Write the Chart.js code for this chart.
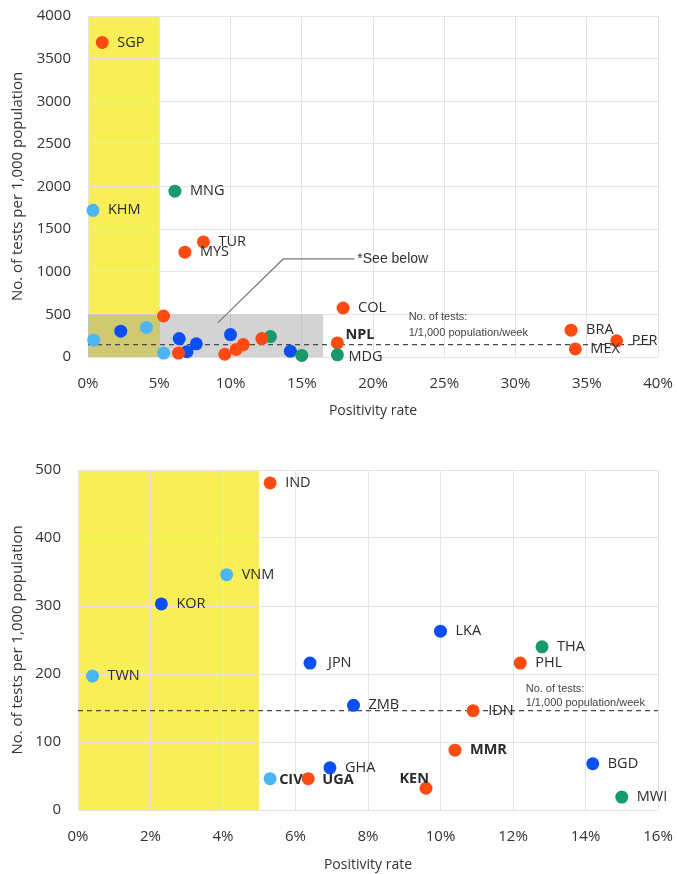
<!DOCTYPE html>
<html>
<head>
<meta charset="utf-8">
<script src="https://cdn.jsdelivr.net/npm/chart.js@4.4.1/dist/chart.umd.min.js"></script>
<style>
  html, body { margin: 0; padding: 0; background: #fff; }
  #wrap { position: relative; width: 677px; height: 874px; }
  .panel { position: absolute; left: 0; width: 677px; }
  #top { top: 0; height: 420px; }
  #bottom { top: 450px; height: 424px; }
</style>
</head>
<body>
<div id="wrap">
  <div class="panel" id="top"><canvas id="overview" width="677" height="420"></canvas></div>
  <div class="panel" id="bottom"><canvas id="detail" width="677" height="424"></canvas></div>
</div>
<script>
// countries with under 500 tests per 1,000 and positivity under 16%
const lowCodes = ['IND', 'VNM', 'KOR', 'TWN', 'JPN', 'LKA', 'THA', 'PHL', 'ZMB',
                  'IDN', 'MMR', 'GHA', 'CIV', 'UGA', 'KEN', 'BGD', 'MWI'];
const lowRate  = [5.3, 4.1, 2.3, 0.4, 6.4, 10.0, 12.8, 12.2, 7.6,
                  10.9, 10.4, 6.95, 5.3, 6.35, 9.6, 14.2, 15.0];
const lowTests = [481, 346, 303, 197, 216, 263, 240, 216, 154,
                  146, 88, 62, 46, 46, 32, 68, 19];
const lowTier  = [1, 3, 2, 3, 2, 2, 4, 1, 2,
                  1, 1, 2, 3, 1, 1, 2, 4];

// everything else, only shown on the overview
const highCodes = ['SGP', 'KHM', 'MNG', 'TUR', 'MYS', 'COL', 'NPL', 'MDG', 'BRA', 'MEX', 'PER'];
const highRate  = [1.0, 0.35, 6.1, 8.1, 6.8, 17.9, 17.5, 17.5, 33.9, 34.2, 37.1];
const highTests = [3690, 1720, 1945, 1350, 1230, 575, 165, 25, 315, 95, 190];
const highTier  = [1, 3, 4, 1, 1, 1, 1, 4, 1, 1, 1];

const boldCodes = ['NPL', 'CIV', 'UGA', 'KEN', 'MMR'];

const overviewXTicks = { max: 40, step: 5 };
const overviewYTicks = { max: 4000, step: 500 };
const detailXTicks = { max: 16, step: 2 };
const detailYTicks = { max: 500, step: 100 };

const threshold = 146;   // 1 test / 1,000 population / week
const targetRate = 5;    // positivity target, %

const FONT = '"Open Sans", "Noto Sans", sans-serif';
const SMALL = '"Liberation Sans", Arial, sans-serif';
const TIER_COLOR = { 1: '#ff4b12', 2: '#0b4ff2', 3: '#4ab6f4', 4: '#17996a' };
const YELLOW = '#f8ee58';

// label placement tweaks (pixels) where the default right-hand spot collides
const labelNudge = {
  NPL: { dx: 8, dy: -8 },
  MDG: { dx: 11, dy: 2 },
  CIV: { dx: 9, dy: 1 },
  UGA: { dx: 14, dy: 1 },
  JPN: { dx: 18, dy: 0 },
  KEN: { dx: 3, dy: -9, align: 'right' },
};

const toPoints = (rate, tests) => rate.map((r, i) => ({ x: r, y: tests[i] }));

const pointLabels = {
  id: 'pointLabels',
  afterDatasetsDraw(chart, args, opts) {
    const { ctx } = chart;
    const meta = chart.getDatasetMeta(0);
    ctx.save();
    ctx.textBaseline = 'middle';
    ctx.fillStyle = '#2b2b2b';
    opts.codes.forEach((code, i) => {
      if (!code) return;
      const el = meta.data[i];
      const n = labelNudge[code] || { dx: 15, dy: 0 };
      ctx.font = (boldCodes.includes(code) ? 'bold ' : '') + '14.5px ' + FONT;
      ctx.textAlign = n.align || 'left';
      ctx.fillText(code, el.x + n.dx, el.y + n.dy);
    });
    ctx.restore();
  }
};

function rect(chart, x0, x1, y0, y1, color) {
  const { x, y } = chart.scales;
  const l = x.getPixelForValue(x0), r = x.getPixelForValue(x1);
  const t = y.getPixelForValue(y1), b = y.getPixelForValue(y0);
  chart.ctx.fillStyle = color;
  chart.ctx.fillRect(l, t, r - l, b - t);
}

function dashedThreshold(chart, xEnd) {
  const { ctx, scales: { x, y } } = chart;
  const py = y.getPixelForValue(threshold);
  ctx.save();
  ctx.strokeStyle = '#4a4a4a';
  ctx.lineWidth = 1.2;
  ctx.setLineDash([5, 4]);
  ctx.beginPath();
  ctx.moveTo(x.left, py);
  ctx.lineTo(x.getPixelForValue(xEnd), py);
  ctx.stroke();
  ctx.restore();
}

function thresholdNote(chart, xv, y1, y2) {
  const { ctx, scales: { x, y } } = chart;
  ctx.save();
  ctx.font = '11px ' + SMALL;
  ctx.fillStyle = '#444';
  ctx.textBaseline = 'middle';
  ctx.fillText('No. of tests:', x.getPixelForValue(xv), y.getPixelForValue(y1));
  ctx.fillText('1/1,000 population/week', x.getPixelForValue(xv), y.getPixelForValue(y2));
  ctx.restore();
}

const overviewDecor = {
  id: 'overviewDecor',
  beforeDraw(chart) {
    rect(chart, 0, targetRate, 0, overviewYTicks.max, YELLOW);
  },
  beforeDatasetsDraw(chart) {
    const { ctx, scales: { x, y } } = chart;
    ctx.save();
    rect(chart, 0, 16.5, 0, 500, 'rgba(150,150,150,0.42)');
    dashedThreshold(chart, 39.6);
    thresholdNote(chart, 22.5, 470, 282);
    // pointer from the shaded box to the footnote
    ctx.strokeStyle = '#777';
    ctx.lineWidth = 1.2;
    ctx.beginPath();
    ctx.moveTo(x.getPixelForValue(9.1), y.getPixelForValue(400));
    ctx.lineTo(x.getPixelForValue(13.7), y.getPixelForValue(1150));
    ctx.lineTo(x.getPixelForValue(18.7), y.getPixelForValue(1150));
    ctx.stroke();
    ctx.font = '14px ' + SMALL;
    ctx.fillStyle = '#333';
    ctx.textBaseline = 'middle';
    ctx.fillText('*See below', x.getPixelForValue(18.9), y.getPixelForValue(1150));
    ctx.restore();
  }
};

const detailDecor = {
  id: 'detailDecor',
  beforeDraw(chart) {
    rect(chart, 0, targetRate, 0, detailYTicks.max, YELLOW);
  },
  beforeDatasetsDraw(chart) {
    dashedThreshold(chart, 16);
    thresholdNote(chart, 12.35, 178, 157);
  }
};

// fixed axis boxes; label overhang is allowed to spill into the margins
function scales(xt, yt, yWidth, xHeight) {
  return {
    x: {
      type: 'linear', min: 0, max: xt.max,
      ticks: { stepSize: xt.step, padding: 18, color: '#333',
               font: { family: FONT, size: 15 }, callback: v => v + '%' },
      grid: { color: '#e4e4e4', drawTicks: false },
      border: { display: false },
      title: { display: true, text: 'Positivity rate', color: '#333',
               font: { family: FONT, size: 14 }, padding: { top: 0, bottom: 1 } },
      afterFit: s => { s.height = xHeight; s.paddingLeft = 0; s.paddingRight = 0; }
    },
    y: {
      type: 'linear', min: 0, max: yt.max,
      ticks: { stepSize: yt.step, padding: 17, color: '#333',
               font: { family: FONT, size: 15 }, callback: v => String(v) },
      grid: { color: '#e4e4e4', drawTicks: false },
      border: { display: false },
      title: { display: true, text: 'No. of tests per 1,000 population', color: '#333',
               font: { family: FONT, size: 15 }, padding: { top: 9, bottom: 0 } },
      afterFit: s => { s.width = yWidth; s.paddingTop = 0; s.paddingBottom = 0; }
    }
  };
}

function dataset(points, tiers) {
  return {
    data: points,
    pointRadius: 6.5,
    pointHoverRadius: 6.5,
    pointBorderWidth: 0,
    pointBackgroundColor: tiers.map(t => TIER_COLOR[t]),
    pointBorderColor: tiers.map(t => TIER_COLOR[t]),
    clip: false,
  };
}

const overviewPoints = toPoints(highRate, highTests).concat(toPoints(lowRate, lowTests));
const overviewTiers = highTier.concat(lowTier);
const overviewCodes = highCodes.concat(lowCodes.map(() => null));

new Chart(document.getElementById('overview'), {
  type: 'scatter',
  data: { datasets: [dataset(overviewPoints, overviewTiers)] },
  options: {
    responsive: false,
    animation: false,
    layout: { autoPadding: false, padding: { top: 16, right: 19, left: 0, bottom: 0 } },
    scales: scales(overviewXTicks, overviewYTicks, 88, 63),
    plugins: {
      legend: { display: false },
      tooltip: { enabled: false },
      pointLabels: { codes: overviewCodes }
    }
  },
  plugins: [overviewDecor, pointLabels]
});

new Chart(document.getElementById('detail'), {
  type: 'scatter',
  data: { datasets: [dataset(toPoints(lowRate, lowTests), lowTier)] },
  options: {
    responsive: false,
    animation: false,
    layout: { autoPadding: false, padding: { top: 20, right: 19, left: 0, bottom: 0 } },
    scales: scales(detailXTicks, detailYTicks, 78, 64),
    plugins: {
      legend: { display: false },
      tooltip: { enabled: false },
      pointLabels: { codes: lowCodes }
    }
  },
  plugins: [detailDecor, pointLabels]
});
</script>
</body>
</html>
